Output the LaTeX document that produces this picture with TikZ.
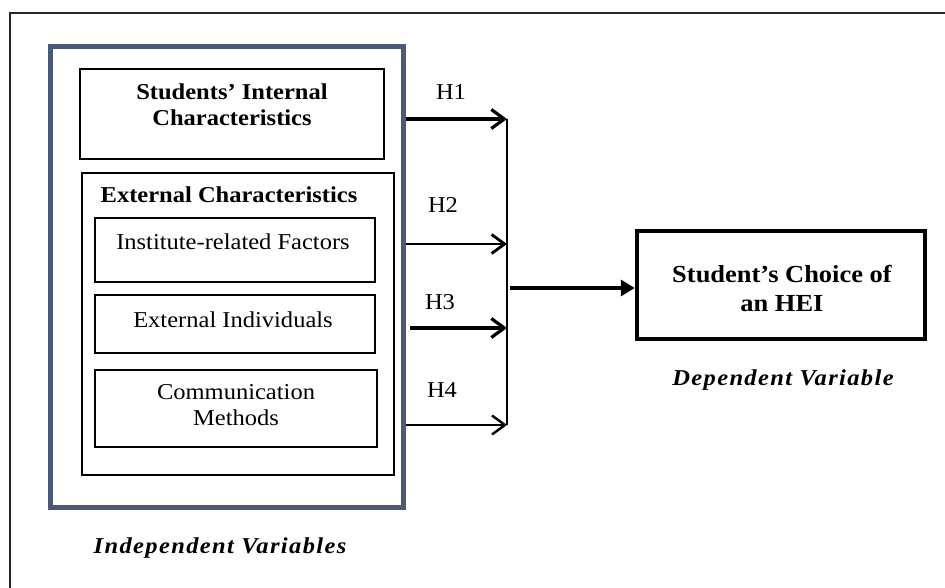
\documentclass[tikz,border=0pt]{standalone}
\usepackage{fontspec}
\setmainfont{Liberation Serif}[FakeStretch=1.08]
\usetikzlibrary{arrows.meta}
\definecolor{slate}{HTML}{4A5A78}
\tikzset{
  frame/.style={draw=black!85, line width=2.5pt},
  bluebox/.style={draw=slate, line width=5pt, rectangle, inner sep=0pt},
  box/.style={draw=black, line width=2pt, rectangle, inner sep=0pt},
  depbox/.style={draw=black, line width=4.5pt, rectangle, inner sep=0pt},
  txt/.style={font=\fontsize{22.7}{26}\selectfont, align=center, inner sep=0pt},
  btxt/.style={font=\fontsize{22.7}{26}\selectfont\bfseries, align=center, inner sep=0pt},
  bigbtxt/.style={font=\fontsize{24.5}{29}\selectfont\bfseries, align=center, inner sep=0pt},
  bitxt/.style={font=\fontsize{22.7}{26}\selectfont\bfseries\itshape\addfontfeatures{LetterSpace=6}, align=center, inner sep=0pt},
  harrow/.style={-{Straight Barb[length=13pt,width=19pt]}},
  mainarrow/.style={line width=4pt, -{Triangle[length=14pt,width=16pt]}}
}
\begin{document}
\begin{tikzpicture}[x=1pt,y=-1pt]
\useasboundingbox (0,0) rectangle (945,588);
% outer frame (only top and left visible)
\coordinate (fbl) at (10,588);
\coordinate (ftl) at (10,13);
\coordinate (ftr) at (945,13);
\draw[frame] (fbl) -- (ftl) -- (ftr);

% independent variables group
\node[bluebox, minimum width=353pt, minimum height=460pt] (indep) at (226.5,277) {};
\node[box, minimum width=304pt, minimum height=90pt] (internal) at (232,114) {};
\node[btxt] (internalt) at (232,105) {Students’ Internal\\Characteristics};
\node[box, minimum width=312pt, minimum height=302pt] (external) at (238,324) {};
\node[btxt] (externalt) at (229,195) {External Characteristics};
\node[box, minimum width=280pt, minimum height=64pt] (inst) at (235,250) {};
\node[txt] (instt) at (233,242) {Institute-related Factors};
\node[box, minimum width=280pt, minimum height=58pt] (indiv) at (235,324) {};
\node[txt] (indivt) at (233,320) {External Individuals};
\node[box, minimum width=282pt, minimum height=77pt] (comm) at (236,408.5) {};
\node[txt] (commt) at (236,405) {Communication\\Methods};
\node[bitxt] (indeplab) at (220,548) {Independent Variables};

% junction points on the vertical collector line
\coordinate (j1) at (507,119);
\coordinate (j2) at (507,244);
\coordinate (j3) at (507,328);
\coordinate (j4) at (507,425);
\coordinate (jm) at (510,288);
\coordinate (s3) at (410,328);

\draw[line width=2pt] (j1) -- (j4);
\draw[harrow, line width=3.2pt] (indep.east |- j1) -- (j1);
\draw[harrow, line width=2.8pt] (indep.east |- j2) -- (j2);
\draw[harrow, line width=3.2pt] (s3) -- (j3);
\draw[harrow, line width=2.4pt] (indep.east |- j4) -- (j4);

\node[txt] (h1) at (451,92) {H1};
\node[txt] (h2) at (443,205) {H2};
\node[txt] (h3) at (440,302) {H3};
\node[txt] (h4) at (442,390) {H4};

% dependent variable
\node[depbox, minimum width=288pt, minimum height=108pt] (dep) at (781,285) {};
\node[bigbtxt] (dept) at (782,288) {Student’s Choice of\\an HEI};
\node[bitxt] (deplab) at (783,380) {Dependent Variable};

\draw[mainarrow] (jm) -- (dep.west |- jm);
\end{tikzpicture}
\end{document}
